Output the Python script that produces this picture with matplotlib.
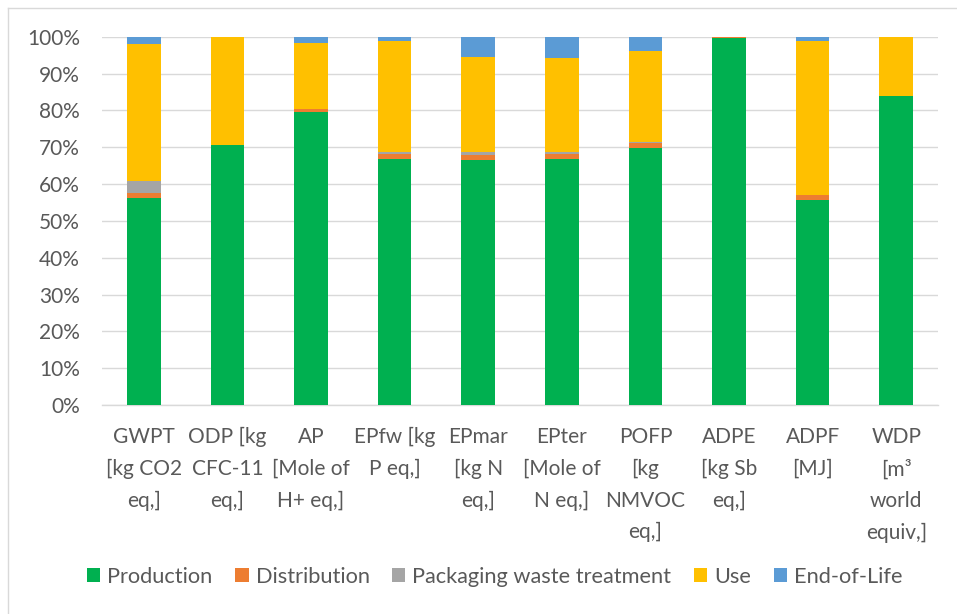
import matplotlib
matplotlib.use("Agg")
import matplotlib.pyplot as plt
from matplotlib.patches import Patch
from matplotlib.lines import Line2D
from matplotlib.ticker import PercentFormatter
import numpy as np

categories = [
    "GWPT\n[kg CO2\neq,]",
    "ODP [kg\nCFC-11\neq,]",
    "AP\n[Mole of\nH+ eq,]",
    "EPfw [kg\nP eq,]",
    "EPmar\n[kg N\neq,]",
    "EPter\n[Mole of\nN eq,]",
    "POFP\n[kg\nNMVOC\neq,]",
    "ADPE\n[kg Sb\neq,]",
    "ADPF\n[MJ]",
    "WDP\n[m³\nworld\nequiv,]",
]
series_names = ["Production", "Distribution", "Packaging waste treatment", "Use", "End-of-Life"]
production   = [56.2, 70.7, 79.5, 66.8, 66.4, 66.8, 69.9, 99.7, 55.6, 83.8]
distribution = [1.3,  0.0,  0.8,  1.4,  1.4,  1.4,  1.2,  0.1,  1.3,  0.0]
packaging    = [3.2,  0.0,  0.1,  0.4,  0.8,  0.6,  0.4,  0.0,  0.1,  0.0]
use          = [37.3, 29.3, 17.8, 30.1, 25.8, 25.3, 24.7, 0.1,  41.9, 16.0]
end_of_life  = [2.0,  0.0,  1.8,  1.3,  5.6,  5.9,  3.8,  0.1,  1.1,  0.2]
colors = ["#00B050", "#ED7D31", "#A5A5A5", "#FFC000", "#5B9BD5"]

plt.rcParams['font.family'] = ['Lato', 'DejaVu Sans']
text_color = "#595959"
grid_color = "#D9D9D9"

W, H = 957, 614
fig = plt.figure(figsize=(W / 100, H / 100), dpi=100)
ax = fig.add_axes([102 / W, 1 - 405 / H, (938 - 102) / W, (405 - 36.7) / H])

data = [production, distribution, packaging, use, end_of_life]
x = np.arange(len(categories))
bottom = np.zeros(len(categories))
for vals, name, c in zip(data, series_names, colors):
    v = np.array(vals) / 100.0
    ax.bar(x, v, 0.4, bottom=bottom, color=c, label=name, linewidth=0, zorder=3)
    bottom += v

ax.set_xlim(-0.5, len(categories) - 0.5)
ax.set_ylim(0, 1.0)
ax.set_yticks(np.arange(0, 1.01, 0.1))
ax.yaxis.set_major_formatter(PercentFormatter(1.0, decimals=0))
ax.grid(axis='y', color=grid_color, linewidth=1.0, zorder=0)
for s in ["top", "right", "left"]:
    ax.spines[s].set_visible(False)
ax.spines["bottom"].set_color(grid_color)
ax.spines["bottom"].set_linewidth(1.0)
ax.set_xticks(x)
ax.set_xticklabels(categories, linespacing=1.72)
ax.tick_params(axis='both', length=0, colors=text_color, labelsize=15)
ax.tick_params(axis='y', pad=16)
ax.tick_params(axis='x', pad=16)

handles = [Patch(facecolor=c, edgecolor='none') for c in colors]
fig.legend(handles, series_names, loc='center', bbox_to_anchor=(495 / W, 1 - 577 / H),
           ncol=5, frameon=False, fontsize=15.7, handlelength=0.6, handleheight=0.6,
           handletextpad=0.32, columnspacing=1.05, labelcolor=text_color)

fig.add_artist(Line2D([8.3 / W, 8.3 / W], [0, 1 - 8.3 / H], transform=fig.transFigure,
                      color=grid_color, linewidth=1.0))
fig.add_artist(Line2D([8.3 / W, 1], [1 - 8.3 / H, 1 - 8.3 / H], transform=fig.transFigure,
                      color=grid_color, linewidth=1.0))

fig.savefig("out.png", dpi=100)
